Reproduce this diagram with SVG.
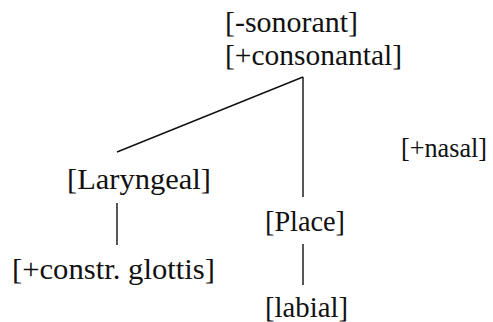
<svg xmlns="http://www.w3.org/2000/svg" width="493" height="322" viewBox="0 0 493 322">
<style>
text { font-family: "Liberation Serif", "Times New Roman", serif; font-size: 29px; fill: #111; }
.edge { stroke: #111; stroke-width: 1.4; fill: none; }
</style>
<rect width="493" height="322" fill="#fff"/>
<g id="connectors">
<line class="edge" x1="303" y1="77" x2="117" y2="152"/>
<line class="edge" x1="303" y1="77" x2="303" y2="197"/>
<line class="edge" x1="117" y1="203" x2="117" y2="245"/>
<line class="edge" x1="303" y1="244" x2="303" y2="285"/>
</g>
<g id="root">
<text x="225" y="32" textLength="133" lengthAdjust="spacingAndGlyphs">[-sonorant]</text>
<text x="225" y="65" textLength="177" lengthAdjust="spacingAndGlyphs">[+consonantal]</text>
</g>
<g id="nasal"><text x="401" y="157" style="font-size:27px" textLength="86" lengthAdjust="spacingAndGlyphs">[+nasal]</text></g>
<g id="laryngeal"><text x="67" y="189" textLength="144" lengthAdjust="spacingAndGlyphs">[Laryngeal]</text></g>
<g id="place"><text x="265" y="231" textLength="80" lengthAdjust="spacingAndGlyphs">[Place]</text></g>
<g id="glottis"><text x="12" y="279" textLength="203" lengthAdjust="spacingAndGlyphs">[+constr. glottis]</text></g>
<g id="labial"><text x="265" y="317" textLength="83" lengthAdjust="spacingAndGlyphs">[labial]</text></g>
</svg>
